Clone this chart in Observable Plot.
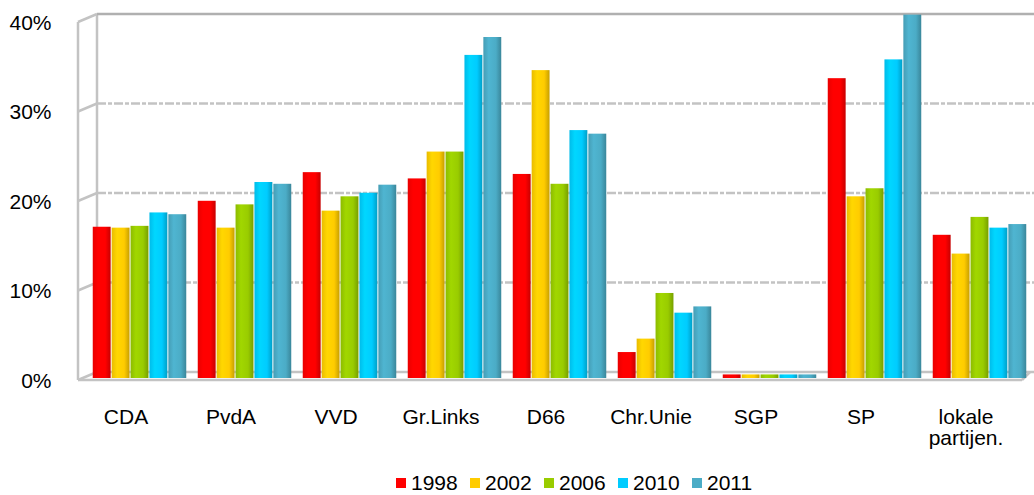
<!DOCTYPE html>
<html>
<head>
<meta charset="utf-8">
<script src="https://cdn.jsdelivr.net/npm/d3@7"></script>
<script src="https://cdn.jsdelivr.net/npm/@observablehq/plot@0.6"></script>
<style>
  body { margin: 0; background: #fff; font-family: "Liberation Sans", Arial, sans-serif; }
  #legend { position: relative; height: 20px; font-size: 21px; color: #000; }
  #legend .item { position: absolute; top: 0; display: flex; align-items: center; line-height: 22px; }
  #legend .sw { width: 10px; height: 10px; margin-right: 5px; }
</style>
</head>
<body>
<div id="chart"></div>
<div id="legend"></div>
<script>
const parties = ["CDA", "PvdA", "VVD", "Gr.Links", "D66", "Chr.Unie", "SGP", "SP", "lokale partijen."];
const partyLabels = ["CDA", "PvdA", "VVD", "Gr.Links", "D66", "Chr.Unie", "SGP", "SP", "lokale\npartijen."];
const years = ["1998", "2002", "2006", "2010", "2011"];
const v1998 = [16.9, 19.8, 23.0, 22.3, 22.8, 2.9, 0.4, 33.5, 16.0];
const v2002 = [16.8, 16.8, 18.7, 25.3, 34.4, 4.4, 0.4, 20.3, 13.9];
const v2006 = [17.0, 19.4, 20.3, 25.3, 21.7, 9.5, 0.4, 21.2, 18.0];
const v2010 = [18.5, 21.9, 20.7, 36.1, 27.7, 7.3, 0.4, 35.6, 16.8];
const v2011 = [18.3, 21.7, 21.6, 38.1, 27.3, 8.0, 0.4, 40.6, 17.2];
const yTicks = [0, 10, 20, 30, 40];
const colors = ["#ff0000", "#ffcc00", "#99cc00", "#00ccff", "#4bacc6"];

const series = [v1998, v2002, v2006, v2010, v2011];
const data = [];
years.forEach((yr, i) => parties.forEach((p, j) => data.push({party: p, year: yr, value: series[i][j]})));

const W = 1034, H = 472, ML = 87, MR = 2, MT = 20, MB = 94;
const band = d3.scaleBand(parties, [ML, W - MR]).paddingInner(0.1).paddingOuter(0.05);
const bw = band.bandwidth() / years.length;

const barMarks = years.map((yr, i) =>
  Plot.barY(data.filter(d => d.year === yr), {
    x: "party", y: "value",
    fill: `url(#grad${i})`,
    insetLeft: i * bw + 0.5,
    insetRight: (years.length - 1 - i) * bw + 0.5
  })
);

const plot = Plot.plot({
  width: W, height: H,
  marginLeft: ML, marginRight: MR, marginTop: MT, marginBottom: MB,
  style: {fontFamily: '"Liberation Sans", Arial, sans-serif', fontSize: "21px", color: "#000", background: "#fff"},
  x: {domain: parties, paddingInner: 0.1, paddingOuter: 0.05, round: false},
  y: {domain: [0, 40]},
  marks: [
    ...barMarks,
    Plot.axisY(yTicks, {tickSize: 0, tickPadding: 36, tickFormat: d => d + "%", dy: 2.5, fontSize: 21, label: null}),
    Plot.axisX({tickSize: 0, tickPadding: 31, dx: -14, fontSize: 21, label: null,
      tickFormat: d => partyLabels[parties.indexOf(d)]})
  ]
});

const svg = d3.select(plot);
// gradients for cylinder-like bars
const defs = svg.insert("defs", ":first-child");
colors.forEach((c, i) => {
  const g = defs.append("linearGradient").attr("id", "grad" + i).attr("x1", 0).attr("x2", 1).attr("y1", 0).attr("y2", 0);
  const base = d3.color(c);
  [[0, base.darker(0.25)], [0.3, base.brighter(0.15)], [0.7, base], [1, base.darker(0.7)]].forEach(([o, col]) =>
    g.append("stop").attr("offset", o).attr("stop-color", col.formatHex()));
});

// 3D box walls (behind bars), positioned from the plot's y scale
const ys = plot.scale("y");
const yf = v => ys.apply(v) + 2;   // front edge of the side wall
const yb = v => ys.apply(v) - 6;   // back wall
const xF = ML - 9, xB = ML + 10, xR = W;
const walls = svg.insert("g", "defs + *").attr("stroke", "#c3c3c3").attr("stroke-width", 2.5).attr("fill", "none");
walls.append("line").attr("x1", xF).attr("x2", xF).attr("y1", yf(0)).attr("y2", yf(40));
walls.append("line").attr("x1", xB).attr("x2", xB).attr("y1", yb(0)).attr("y2", yb(40));
yTicks.forEach(v => {
  walls.append("line").attr("x1", xF).attr("y1", yf(v)).attr("x2", xB).attr("y2", yb(v));
  walls.append("line").attr("x1", xB).attr("y1", yb(v)).attr("x2", xR).attr("y2", yb(v))
    .attr("stroke-dasharray", (v === 0 || v === 40) ? null : "9,2,4,2")
    .attr("stroke", v === 40 ? "#b0b0b0" : null);
});
walls.append("line").attr("x1", xF).attr("y1", yf(0)).attr("x2", W - 12).attr("y2", yf(0));
walls.append("line").attr("x1", W - 12).attr("y1", yf(0)).attr("x2", W - 4).attr("y2", yb(0));

document.getElementById("chart").append(plot);

// legend
const legend = document.getElementById("legend");
years.forEach((yr, i) => {
  const it = document.createElement("div");
  it.className = "item";
  it.style.left = (396 + i * 74) + "px";
  const sw = document.createElement("span");
  sw.className = "sw";
  sw.style.background = colors[i];
  const t = document.createElement("span");
  t.textContent = yr;
  it.append(sw, t);
  legend.append(it);
});
</script>
</body>
</html>
